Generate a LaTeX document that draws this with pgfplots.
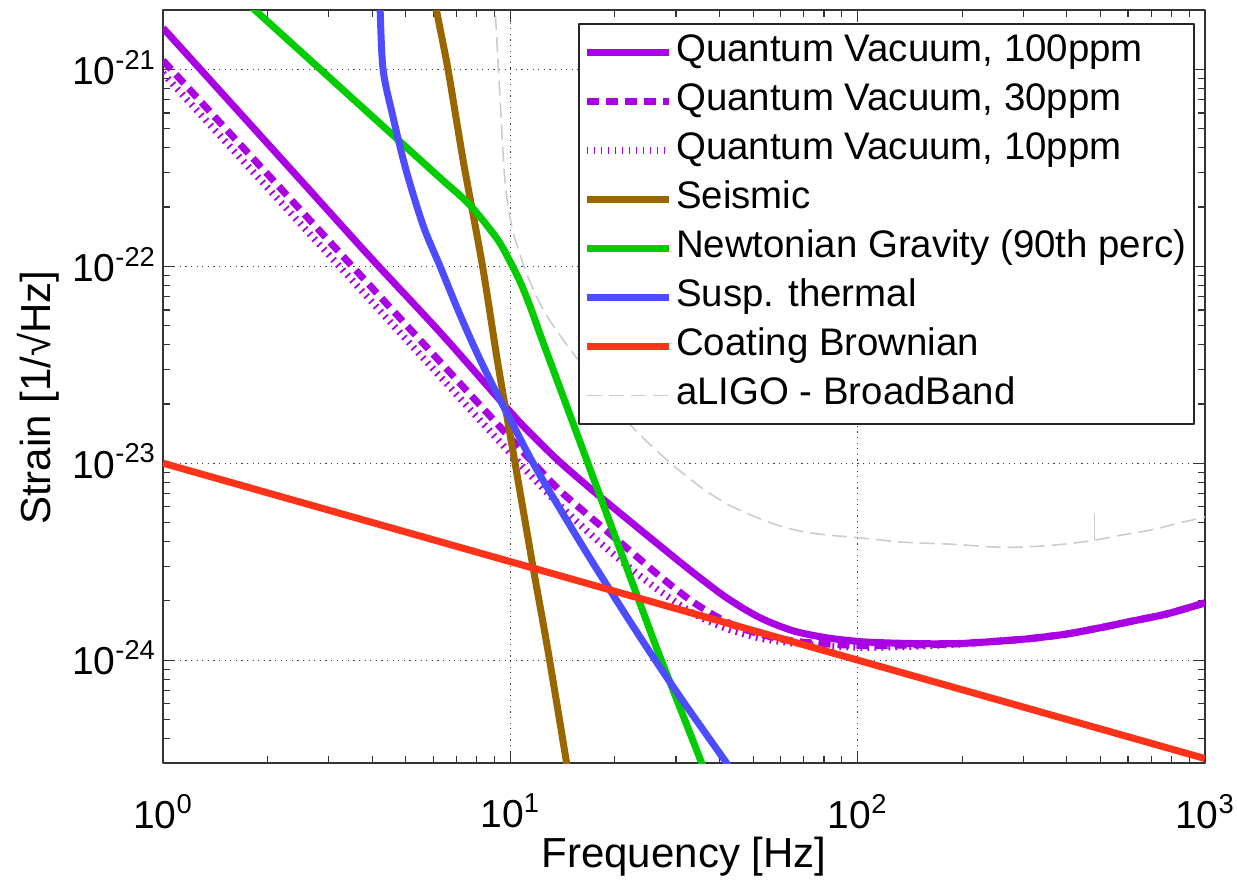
\documentclass[border=0pt]{standalone}
\usepackage{pgfplots}
\pgfplotsset{compat=1.18}
\usepackage{fontspec}
\setmainfont{Liberation Sans}
\definecolor{qv}{RGB}{170,0,228}
\definecolor{seis}{RGB}{153,102,0}
\definecolor{nn}{RGB}{0,204,0}
\definecolor{susp}{RGB}{77,77,255}
\definecolor{coat}{RGB}{255,51,25}
\definecolor{aligo}{RGB}{204,204,204}
\newcommand\tl[1]{{\fontsize{19.5}{21}\selectfont 10\textsuperscript{#1}}}
\begin{document}
\begin{tikzpicture}
\begin{axis}[
  name=ax,
  scale only axis, width=521pt, height=376.5pt,
  xmode=log, ymode=log,
  xmin=1, xmax=1000, ymin=3e-25, ymax=2e-21,
  xtick={1,10,100,1000},
  xticklabels={\tl{0},\tl{1},\tl{2},\tl{3}},
  ytick={1e-24,1e-23,1e-22,1e-21},
  yticklabels={\tl{-24},\tl{-23},\tl{-22},\tl{-21}},
  minor xtick={2,3,4,5,6,7,8,9,20,30,40,50,60,70,80,90,200,300,400,500,600,700,800,900},
  minor ytick={4e-25,5e-25,6e-25,7e-25,8e-25,9e-25,2e-24,3e-24,4e-24,5e-24,6e-24,7e-24,8e-24,9e-24,2e-23,3e-23,4e-23,5e-23,6e-23,7e-23,8e-23,9e-23,2e-22,3e-22,4e-22,5e-22,6e-22,7e-22,8e-22,9e-22,2e-21},
  tick align=inside,
  major tick length=6pt, minor tick length=3.5pt,
  tick style={black!80, line width=0.6pt},
  axis line style={black!80, line width=0.8pt},
  grid=major,
  major grid style={black!75, line width=0.6pt, dash pattern=on 0.6pt off 2.2pt},
  xticklabel style={yshift=-12pt},
  yticklabel style={yshift=1pt},
  xlabel={Frequency [Hz]},
  ylabel={Strain [1/√Hz]},
  xlabel style={font=\fontsize{21}{24}\selectfont, at={([yshift=-47pt]axis description cs:0.5,0)}, anchor=center},
  ylabel style={font=\fontsize{21}{24}\selectfont, at={([xshift=-62.5pt]axis description cs:0,0.485)}, anchor=center},
  legend image code/.code={\draw[#1] (0pt,0pt) -- (41pt,0pt);},
  legend cell align=left,
  legend style={at={(1,1)}, anchor=north east, xshift=-5pt, yshift=-6.5pt,
    font=\fontsize{19.2}{21}\selectfont, draw=black!85, line width=0.8pt,
    inner xsep=2pt, inner ysep=2pt,
    nodes={text height=13.5pt, text depth=4pt, inner ysep=3.5pt}},
  line join=round,
]
% Quantum Vacuum 100ppm
\addplot[qv, line width=3.5pt, smooth] coordinates {
(1,1.622e-21) (1.585,6.61e-22) (2.512,2.692e-22) (3.981,1.096e-22) (6.310,4.571e-23)
(10,1.820e-23) (11.75,1.349e-23) (13.9,1.012e-23) (17.3,7.244e-24) (21.68,5.212e-24) (26.98,3.802e-24)
(33.57,2.786e-24) (42.07,2.065e-24) (52.36,1.641e-24) (65.16,1.409e-24) (81.66,1.297e-24)
(101.6,1.242e-24) (123.9,1.222e-24) (158.5,1.211e-24) (199.5,1.216e-24) (257,1.250e-24)
(316,1.288e-24) (401,1.358e-24) (501,1.462e-24) (621,1.581e-24) (778,1.718e-24) (1000,1.954e-24)};
\addlegendentry{Quantum Vacuum, 100ppm}
% Quantum Vacuum 30ppm
\addplot[qv, line width=3.5pt, dash pattern=on 6pt off 3.5pt, smooth] coordinates {
(1,1.109e-21) (1.585,4.581e-22) (2.512,1.897e-22) (3.981,7.834e-23) (6.310,3.243e-23)
(10,1.340e-23) (11.75,9.863e-24) (13.9,7.244e-24) (17.3,5.188e-24) (21.68,3.698e-24) (26.98,2.661e-24)
(33.57,1.972e-24) (42.07,1.556e-24) (52.36,1.355e-24) (65.16,1.250e-24) (81.66,1.208e-24)
(101.6,1.186e-24) (123.9,1.189e-24) (158.5,1.197e-24) (199.5,1.213e-24) (257,1.250e-24)
(316,1.288e-24) (401,1.358e-24) (501,1.462e-24) (621,1.581e-24) (778,1.718e-24) (1000,1.954e-24)};
\addlegendentry{Quantum Vacuum, 30ppm}
% Quantum Vacuum 10ppm
\addplot[qv, line width=3.5pt, dash pattern=on 0.9pt off 2.6pt, smooth] coordinates {
(1,9.55e-22) (1.585,3.926e-22) (2.512,1.614e-22) (3.981,6.637e-23) (6.310,2.729e-23)
(10,1.122e-23) (11.75,8.260e-24) (13.9,6.095e-24) (17.3,4.246e-24) (21.68,3.020e-24) (26.98,2.239e-24)
(33.57,1.730e-24) (42.07,1.445e-24) (52.36,1.294e-24) (65.16,1.222e-24) (81.66,1.180e-24)
(101.6,1.161e-24) (123.9,1.167e-24) (158.5,1.183e-24) (199.5,1.208e-24) (257,1.250e-24)
(316,1.288e-24) (401,1.358e-24) (501,1.462e-24) (621,1.581e-24) (778,1.718e-24) (1000,1.954e-24)};
\addlegendentry{Quantum Vacuum, 10ppm}
% Seismic
\addplot[seis, line width=3.5pt, smooth] coordinates {
(5.9,3.2e-21) (6.109,2.065e-21) (6.616,1e-21) (7.328,3.388e-22) (8.318,1e-22) (9.218,3.162e-23)
(10.32,1e-23) (11.63,2.951e-24) (12.84,1.112e-24) (14.55,2.951e-25) (15.0,2.2e-25)};
\addlegendentry{Seismic}
% Newtonian gravity
\addplot[nn, line width=3.5pt, smooth] coordinates {
(1.585,2.541e-21) (1.803,2.065e-21) (2.512,1.216e-21) (3.548,6.998e-22) (5.012,4.027e-22)
(6.310,2.786e-22) (7.656,2.042e-22) (9.156,1.380e-22) (9.979,1.057e-22)
(10.67,8.337e-23) (11.39,6.281e-23) (12.42,4.111e-23) (15.17,1.589e-23) (17.78,7.464e-24)
(19.77,4.519e-24) (21.68,2.917e-24) (23.63,1.936e-24) (26.45,1.135e-24) (29.41,7.047e-25)
(32.92,4.246e-25) (35.65,2.965e-25) (38.02,2.218e-25)};
\addlegendentry{Newtonian Gravity (90th perc)}
% Suspension thermal
\addplot[susp, line width=3.5pt, smooth] coordinates {
(4.188,3.162e-21) (4.216,2.065e-21) (4.301,1e-21) (4.571,5.957e-22) (5.012,3.069e-22)
(5.623,1.592e-22) (6.276,1e-22) (7.079,5.957e-23) (7.943,3.758e-23) (8.913,2.466e-23)
(10,1.667e-23) (11.55,1.023e-23) (13.90,5.861e-24) (16.96,3.289e-24) (21.68,1.656e-24)
(26.11,1.002e-24) (31.62,6.081e-25) (41.50,3.083e-25) (44.67,2.564e-25)};
\addlegendentry{Susp. thermal}
% Coating Brownian
\addplot[coat, line width=3.5pt] coordinates {(1,1e-23) (1000,3.162e-25)};
\addlegendentry{Coating Brownian}
% aLIGO
\addplot[aligo, line width=0.8pt, dash pattern=on 7.5pt off 3.5pt, smooth] coordinates {
(8.913,3.162e-21) (9.036,2.065e-21) (9.340,7.161e-22) (9.654,2.698e-22) (10.18,1.500e-22)
(11.39,8.318e-23) (12.76,5.585e-23) (14.86,3.793e-23) (18.20,2.399e-23) (22.41,1.531e-23)
(28.83,1.005e-23) (35.88,7.413e-24) (42.36,6.166e-24) (49.97,5.395e-24) (58.88,4.842e-24)
(69.62,4.487e-24) (83.18,4.305e-24) (100.3,4.188e-24)
(135.1,3.972e-24) (188.3,3.873e-24) (257.0,3.741e-24) (328.6,3.784e-24) (398.1,3.890e-24)
(481,4.064e-24) (575.4,4.315e-24) (695.0,4.571e-24)
(865.0,5.023e-24) (1000,5.321e-24)};
\addlegendentry{aLIGO - BroadBand}
\addplot[aligo, line width=0.8pt, forget plot] coordinates {(481,4.064e-24) (481,5.5e-24)};
\end{axis}
\pgfresetboundingbox
\path[use as bounding box] ([xshift=-81.5pt,yshift=-59pt]ax.south west) rectangle ([xshift=16pt,yshift=5pt]ax.north east);
\end{tikzpicture}
\end{document}
